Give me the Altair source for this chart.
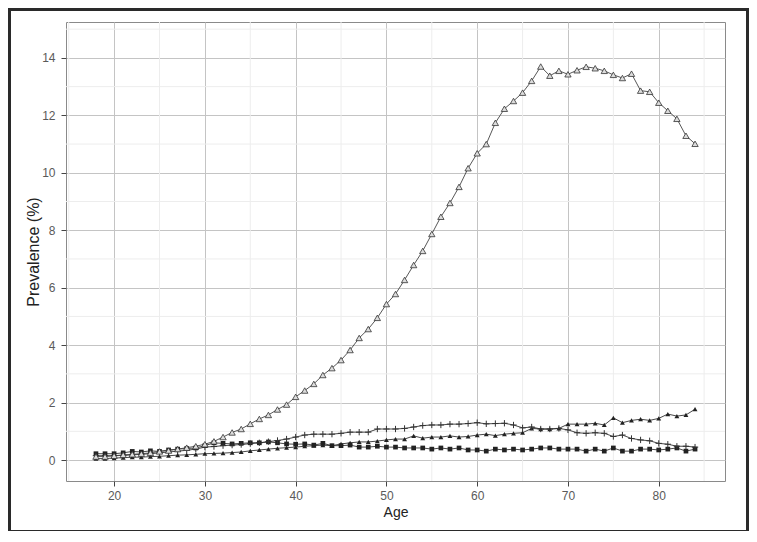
import altair as alt
import pandas as pd

ages = list(range(18, 85))

open_tri = [0.12, 0.12, 0.15, 0.18, 0.2, 0.22, 0.25, 0.3, 0.33, 0.38, 0.43, 0.48, 0.55, 0.65,
            0.8, 0.96, 1.08, 1.26, 1.43, 1.57, 1.76, 1.93, 2.2, 2.42, 2.65, 2.96, 3.2,
            3.48, 3.83, 4.25, 4.56, 4.95, 5.43, 5.78, 6.27, 6.79, 7.28, 7.87, 8.47, 8.95,
            9.51, 10.16, 10.68, 11.0, 11.74, 12.23, 12.5, 12.79, 13.2, 13.7, 13.38, 13.55,
            13.43, 13.57, 13.69, 13.64, 13.55, 13.41, 13.3, 13.45, 12.86, 12.82, 12.44,
            12.16, 11.88, 11.29, 11.01]

plus = [0.15, 0.15, 0.15, 0.16, 0.18, 0.2, 0.22, 0.25, 0.28, 0.31, 0.34, 0.38, 0.45, 0.47,
        0.5, 0.52, 0.54, 0.57, 0.6, 0.64, 0.68, 0.73, 0.8, 0.87, 0.9, 0.9, 0.9, 0.93, 0.97,
        0.97, 0.97, 1.08, 1.08, 1.08, 1.1, 1.15, 1.2, 1.22, 1.22, 1.25, 1.25, 1.27, 1.3,
        1.26, 1.27, 1.28, 1.22, 1.12, 1.15, 1.08, 1.08, 1.1, 1.05, 0.95, 0.93, 0.95, 0.93,
        0.82, 0.87, 0.75, 0.7, 0.67, 0.58, 0.55, 0.48, 0.48, 0.45]

filled_tri = [0.05, 0.05, 0.07, 0.08, 0.1, 0.1, 0.12, 0.13, 0.15, 0.17, 0.18, 0.2, 0.22,
              0.23, 0.24, 0.26, 0.28, 0.32, 0.35, 0.38, 0.41, 0.43, 0.45, 0.48, 0.5, 0.52,
              0.5, 0.56, 0.6, 0.63, 0.63, 0.66, 0.7, 0.73, 0.73, 0.84, 0.76, 0.8, 0.8, 0.84,
              0.8, 0.82, 0.87, 0.9, 0.85, 0.9, 0.93, 0.95, 1.1, 1.08, 1.08, 1.1, 1.25, 1.25,
              1.25, 1.28, 1.22, 1.47, 1.3, 1.38, 1.42, 1.38, 1.45, 1.6, 1.53, 1.57, 1.77]

square = [0.22, 0.22, 0.22, 0.25, 0.3, 0.28, 0.32, 0.3, 0.35, 0.38, 0.4, 0.42, 0.5, 0.6,
          0.58, 0.56, 0.58, 0.6, 0.6, 0.63, 0.6, 0.56, 0.55, 0.56, 0.52, 0.58, 0.5, 0.5,
          0.52, 0.45, 0.45, 0.48, 0.45, 0.45, 0.42, 0.42, 0.42, 0.38, 0.42, 0.38, 0.42,
          0.35, 0.35, 0.31, 0.38, 0.35, 0.38, 0.35, 0.38, 0.42, 0.42, 0.38, 0.38, 0.38,
          0.31, 0.38, 0.31, 0.42, 0.31, 0.31, 0.38, 0.38, 0.35, 0.38, 0.42, 0.31, 0.38]

x_ticks = [20, 30, 40, 50, 60, 70, 80]
x_minor = [15, 25, 35, 45, 55, 65, 75, 85]
y_ticks = [0, 2, 4, 6, 8, 10, 12, 14]
y_minor = [1, 3, 5, 7, 9, 11, 13, 15]

FONT = "Liberation Sans"
X_DOM = [14.7, 87.3]
Y_DOM = [-0.73, 15.25]

xs = alt.Scale(domain=X_DOM, nice=False, zero=False)
ys = alt.Scale(domain=Y_DOM, nice=False, zero=False)

x_axis = alt.Axis(values=x_ticks, title="Age", format="d", grid=True, gridColor="#c4c4c4",
                  gridWidth=1, tickSize=5, tickColor="#444", labelFontSize=12,
                  labelColor="#5a5a5a", labelPadding=4, titleFontSize=14, titleColor="#222",
                  titleFontWeight="normal", titlePadding=4, domain=False,
                  labelFont=FONT, titleFont=FONT)
y_axis = alt.Axis(values=y_ticks, title="Prevalence (%)", format="d", grid=True,
                  gridColor="#c4c4c4", gridWidth=1, tickSize=5, tickColor="#444",
                  labelFontSize=12, labelColor="#5a5a5a", labelPadding=6, titleFontSize=16,
                  titleColor="#222", titleFontWeight="normal", titlePadding=0, domain=False,
                  labelFont=FONT, titleFont=FONT)

def frame(series, name):
    return pd.DataFrame({"age": ages, "v": series, "s": name})

df_open = frame(open_tri, "open")
df_plus = frame(plus, "plus")
df_ftri = frame(filled_tri, "ftri")
df_sq = frame(square, "sq")

minor_x = alt.Chart(pd.DataFrame({"x": x_minor})).mark_rule(color="#ededed", strokeWidth=1).encode(
    x=alt.X("x:Q", scale=xs, axis=x_axis))
minor_y = alt.Chart(pd.DataFrame({"y": y_minor})).mark_rule(color="#ededed", strokeWidth=1).encode(
    y=alt.Y("y:Q", scale=ys, axis=y_axis))

def line(df, color="#333", w=0.9):
    return alt.Chart(df).mark_line(color=color, strokeWidth=w).encode(
        x=alt.X("age:Q", scale=xs, axis=x_axis), y=alt.Y("v:Q", scale=ys, axis=y_axis))

def pts(df, **kw):
    return alt.Chart(df).mark_point(**kw).encode(
        x=alt.X("age:Q", scale=xs, axis=x_axis), y=alt.Y("v:Q", scale=ys, axis=y_axis))

PLUS_PATH = "M-1,0L1,0M0,-1L0,1"

layers = [
    minor_x, minor_y,
    line(df_sq), line(df_ftri), line(df_plus), line(df_open, color="#444"),
    pts(df_sq, shape="square", filled=True, color="#222", size=22, opacity=1),
    pts(df_ftri, shape="triangle-up", filled=True, color="#222", size=24, opacity=1),
    pts(df_plus, shape=PLUS_PATH, filled=False, stroke="#333", strokeWidth=1, size=40, opacity=1),
    pts(df_open, shape="triangle-up", filled=True, fill="#dcdcdc", stroke="#333",
        strokeWidth=0.8, size=40, opacity=1),
]

border = alt.Chart(pd.DataFrame({"a": [0]})).mark_rect(
    filled=False, stroke="#2a2a2a", strokeWidth=3, clip=False).encode(
    x=alt.value(-56.5), x2=alt.value(681.5), y=alt.value(-12.5), y2=alt.value(509.5))

chart = alt.layer(*layers, border).properties(
    width=659, height=459,
    padding={"left": 58, "top": 14, "right": 24, "bottom": 50},
    autosize=alt.AutoSizeParams(type="none"),
    background="white",
).configure_view(stroke="#8a8a8a", strokeWidth=1)

chart.save("out.html", embed_options={"renderer": "svg", "actions": False})
